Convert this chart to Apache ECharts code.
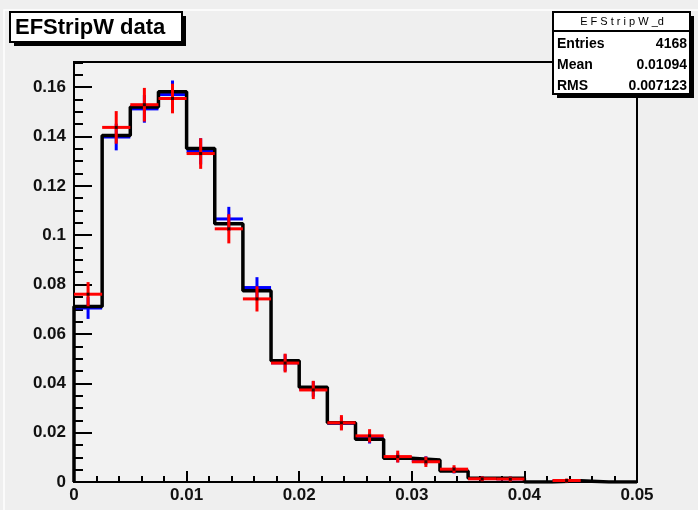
<!DOCTYPE html>
<html>
<head>
<meta charset="utf-8">
<script src="https://cdn.jsdelivr.net/npm/echarts@6/dist/echarts.min.js"></script>
<style>
  html, body { margin: 0; padding: 0; background: #efefef; }
  #chart { width: 698px; height: 510px; }
</style>
</head>
<body>
<div id="chart"></div>
<script>
// bin edges of the histogram (20 bins of 0.0025)
const binEdges = [0, 0.0025, 0.005, 0.0075, 0.01, 0.0125, 0.015, 0.0175, 0.02, 0.0225, 0.025,
  0.0275, 0.03, 0.0325, 0.035, 0.0375, 0.04, 0.0425, 0.045, 0.0475, 0.05];

// black reference histogram
const refValues = [0.0711, 0.1404, 0.1520, 0.1581, 0.1351, 0.1047, 0.0775, 0.0491, 0.0384, 0.0240,
  0.0173, 0.0096, 0.0089, 0.0045, 0.0015, 0.0015, 0, 0.0005, 0, 0];

// blue points with errors
const blueValues = [0.0705, 0.1398, 0.1512, 0.1570, 0.1340, 0.1066, 0.0788, 0.0483, 0.0377, 0.0238,
  0.0178, 0.0098, 0.0087, 0.0048, 0.0014, 0.0013, 0, 0.0005, 0, 0];
const blueErrors = [0.0040, 0.0050, 0.0052, 0.0053, 0.0049, 0.0045, 0.0038, 0.0030, 0.0027, 0.0021,
  0.0018, 0.0014, 0.0013, 0.0009, 0.0005, 0.0005, 0, 0.0003, 0, 0];

// red points with errors
const redValues = [0.0761, 0.1437, 0.1529, 0.1554, 0.1331, 0.1026, 0.0742, 0.0482, 0.0373, 0.0240,
  0.0187, 0.0103, 0.0082, 0.0052, 0.0013, 0.0012, 0, 0.0006, 0, 0];
const redErrors = [0.0045, 0.0062, 0.0064, 0.0056, 0.0058, 0.0055, 0.0047, 0.0034, 0.0033, 0.0027,
  0.0023, 0.0020, 0.0017, 0.0012, 0.0006, 0.0006, 0, 0.0004, 0, 0];

const statsLabels = ['Entries', 'Mean', 'RMS'];
const statsValues = ['4168', '0.01094', '0.007123'];

const FONT = '"Liberation Sans", Arial, sans-serif';

// histogram outline points (left edge of every bin, step 'end')
const histData = [[0, 0]];
binEdges.forEach((e, i) => {
  histData.push([e, refValues[Math.min(i, refValues.length - 1)]]);
});

function crossData(values, errors) {
  return values.map((v, i) => [binEdges[i], binEdges[i + 1], v, errors[i]]).filter(d => d[2] > 0);
}

function crossRender(color) {
  return function(params, api) {
    const lo = api.value(0), hi = api.value(1), v = api.value(2), err = api.value(3);
    const mid = (lo + hi) / 2;
    const a = api.coord([lo, v]);
    const b = api.coord([hi, v]);
    const top = api.coord([mid, v + err]);
    const bot = api.coord([mid, v - err]);
    const style = { stroke: color, lineWidth: 3 };
    return {
      type: 'group',
      children: [
        { type: 'line', shape: { x1: a[0], y1: a[1], x2: b[0], y2: b[1] }, style },
        { type: 'line', shape: { x1: top[0], y1: top[1] - 1, x2: bot[0], y2: bot[1] + 1 }, style }
      ]
    };
  };
}

const chart = echarts.init(document.getElementById('chart'), null, { renderer: 'canvas' });

const yMax = 0.1702;

chart.setOption({
  backgroundColor: '#efefef',
  animation: false,
  grid: {
    left: 74, right: 61, top: 62, bottom: 28,
    show: true, borderColor: '#000', borderWidth: 2, backgroundColor: '#f2f2f2'
  },
  xAxis: [
    {
      type: 'value', min: 0, max: 0.05, interval: 0.01,
      axisLine: { show: true, lineStyle: { color: '#000', width: 2 } },
      axisTick: { inside: true, length: 11, lineStyle: { color: '#000', width: 2 } },
      axisLabel: {
        color: '#111', fontFamily: FONT, fontWeight: 'bold', fontSize: 17, margin: 5,
        formatter: v => String(+v.toFixed(3))
      },
      splitLine: { show: false }
    },
    {
      type: 'value', min: 0, max: 0.05, interval: 0.002, position: 'bottom',
      axisLine: { show: false },
      axisTick: { inside: true, length: 6, lineStyle: { color: '#000', width: 2 } },
      axisLabel: { show: false },
      splitLine: { show: false }
    }
  ],
  yAxis: [
    {
      type: 'value', min: 0, max: yMax, interval: 0.02,
      axisLine: { show: true, lineStyle: { color: '#000', width: 2 } },
      axisTick: { inside: true, length: 18, lineStyle: { color: '#000', width: 2 } },
      axisLabel: {
        color: '#111', fontFamily: FONT, fontWeight: 'bold', fontSize: 17, margin: 8,
        showMaxLabel: false,
        formatter: v => String(+v.toFixed(3))
      },
      splitLine: { show: false }
    },
    {
      type: 'value', min: 0, max: yMax, interval: 0.005, position: 'left',
      axisLine: { show: false },
      axisTick: { inside: true, length: 9, lineStyle: { color: '#000', width: 2 } },
      axisLabel: { show: false },
      splitLine: { show: false }
    }
  ],
  series: [
    {
      type: 'custom', name: 'blue', xAxisIndex: 0, yAxisIndex: 0,
      renderItem: crossRender('#0000ff'),
      data: crossData(blueValues, blueErrors), z: 3
    },
    {
      type: 'line', name: 'ref', xAxisIndex: 0, yAxisIndex: 0,
      step: 'end', symbol: 'none', data: histData,
      lineStyle: { color: '#000', width: 3.5 }, z: 4
    },
    {
      type: 'custom', name: 'red', xAxisIndex: 0, yAxisIndex: 0,
      renderItem: crossRender('#ff0000'),
      data: crossData(redValues, redErrors), z: 5
    },
    {
      type: 'scatter', name: 'dots', xAxisIndex: 0, yAxisIndex: 0,
      symbol: 'rect', symbolSize: 3,
      itemStyle: { color: '#000' },
      data: redValues.map((v, i) => [(binEdges[i] + binEdges[i + 1]) / 2, v]).filter(d => d[1] > 0),
      z: 6
    }
  ],
  graphic: [
    // pad border
    { type: 'rect', shape: { x: 4, y: 10, width: 700, height: 510 },
      style: { fill: 'none', stroke: '#ffffff', lineWidth: 1.5 }, z: -10, silent: true },
    // title box
    { type: 'rect', shape: { x: 14, y: 16, width: 172, height: 30 }, style: { fill: '#000' }, z: 100 },
    { type: 'rect', shape: { x: 10, y: 12, width: 172, height: 30 },
      style: { fill: '#fff', stroke: '#000', lineWidth: 2 }, z: 101 },
    { type: 'text', x: 15, y: 28, z: 102,
      style: { text: 'EFStripW data', font: 'bold 22px ' + FONT, fill: '#000', textVerticalAlign: 'middle' } },
    // stats box
    { type: 'rect', shape: { x: 557, y: 16, width: 137, height: 82 }, style: { fill: '#000' }, z: 100 },
    { type: 'rect', shape: { x: 553, y: 12, width: 137, height: 82 },
      style: { fill: '#fff', stroke: '#000', lineWidth: 2 }, z: 101 },
    { type: 'line', shape: { x1: 553, y1: 31, x2: 690, y2: 31 },
      style: { stroke: '#000', lineWidth: 2 }, z: 102 },
    { type: 'text', x: 622, y: 22, z: 102,
      style: { text: 'E F S t r i p W _d', font: '11px ' + FONT, fill: '#000',
        textAlign: 'center', textVerticalAlign: 'middle' } }
  ].concat(statsLabels.flatMap((lab, i) => [
    { type: 'text', x: 557, y: 44 + i * 21, z: 102,
      style: { text: lab, font: 'bold 14px ' + FONT, fill: '#000', textVerticalAlign: 'middle' } },
    { type: 'text', x: 687, y: 44 + i * 21, z: 102,
      style: { text: statsValues[i], font: 'bold 14px ' + FONT, fill: '#000',
        textAlign: 'right', textVerticalAlign: 'middle' } }
  ]))
});
</script>
</body>
</html>
